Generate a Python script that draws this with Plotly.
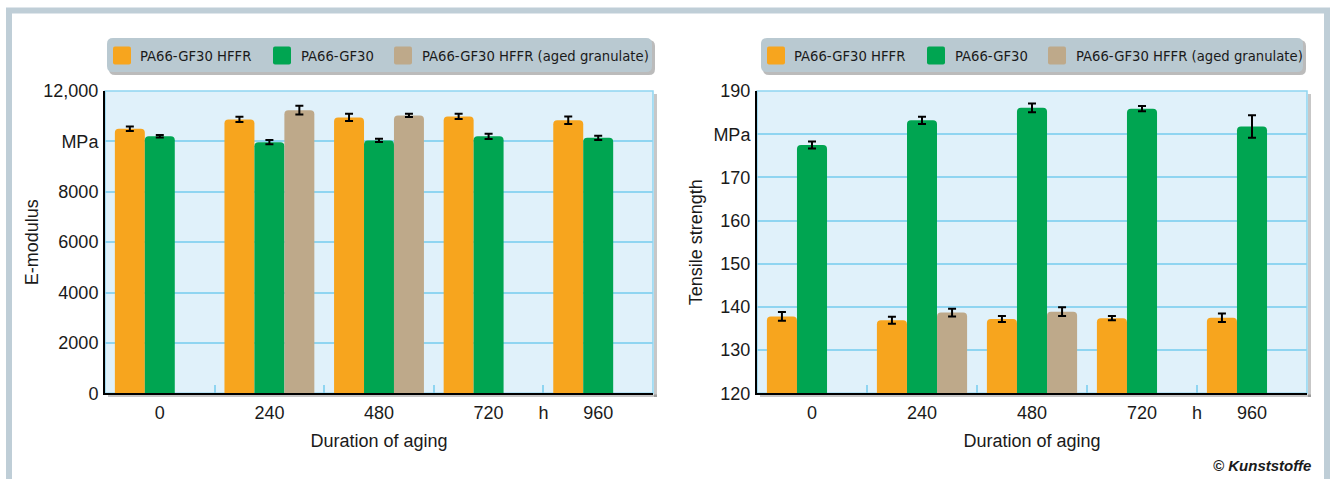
import plotly.graph_objects as go

# ---------------- data ----------------
categories = ["0", "240", "480", "720", "960"]          # duration of aging, h
series_names = ["PA66-GF30 HFFR", "PA66-GF30", "PA66-GF30 HFFR (aged granulate)"]
series_colors = ["#f7a51e", "#00a551", "#bea98a"]

emod_hffr = [10500, 10870, 10950, 10990, 10840]
emod_hffr_err = [90, 105, 145, 105, 150]
emod_gf30 = [10200, 9970, 10040, 10200, 10140]
emod_gf30_err = [50, 80, 65, 105, 85]
emod_aged = [None, 11240, 11030, None, None]
emod_aged_err = [0, 170, 65, 0, 0]

ts_hffr = [137.8, 136.9, 137.2, 137.4, 137.5]
ts_hffr_err = [1.0, 0.8, 0.7, 0.5, 1.0]
ts_gf30 = [177.5, 183.2, 186.1, 185.9, 181.8]
ts_gf30_err = [0.8, 0.85, 1.0, 0.6, 2.6]
ts_aged = [None, 138.7, 138.9, None, None]
ts_aged_err = [0, 0.9, 1.0, 0, 0]

emod_tickvals = [0, 2000, 4000, 6000, 8000, 10000, 12000]
emod_ticktext = ["0", "2000", "4000", "6000", "8000", "MPa", "12,000"]
ts_tickvals = [120, 130, 140, 150, 160, 170, 180, 190]
ts_ticktext = ["120", "130", "140", "150", "160", "170", "MPa", "190"]
unit_label = "h"

# ---------------- geometry helpers ----------------
W, H = 1332, 479


def px(x):
    return x / W


def py(y):
    return 1 - y / H


FONT = "Liberation Sans, Arial, sans-serif"
LEG_FONT = "DejaVu Sans Condensed, Liberation Sans Narrow, Arial Narrow, Liberation Sans, Arial"
GRID = "#8fd5f1"
PLOTBG = "#e0f1fa"
FRAME = "#bfced7"

xpos = list(range(len(categories)))
xtickvals = xpos[:4] + [3.5] + xpos[4:]
xticktext = categories[:4] + [unit_label] + categories[4:]

fig = go.Figure()


def add_bars(vals_list, errs_list, xa, ya):
    for name, color, vals, errs in zip(series_names, series_colors, vals_list, errs_list):
        fig.add_trace(go.Bar(
            x=xpos, y=vals, name=name, showlegend=False,
            marker=dict(color=color, cornerradius=4, line=dict(color=color, width=0)),
            error_y=dict(type="data", array=errs, visible=True, color="black",
                         thickness=2, width=4),
            xaxis=xa, yaxis=ya,
        ))


add_bars([emod_hffr, emod_gf30, emod_aged], [emod_hffr_err, emod_gf30_err, emod_aged_err], "x", "y")
add_bars([ts_hffr, ts_gf30, ts_aged], [ts_hffr_err, ts_gf30_err, ts_aged_err], "x2", "y2")

ydom = [py(393.3), py(91)]


def xaxis_cfg(domain, anchor):
    return dict(
        domain=domain, anchor=anchor, range=[-0.5, 4.5],
        tickmode="array", tickvals=xtickvals, ticktext=xticktext,
        ticks="", showgrid=False, zeroline=False,
        showline=True, linecolor="black", linewidth=2,
        tickfont=dict(family=FONT, size=18, color="#1a1a1a"),
        ticklabelstandoff=2,
        minor=dict(tickmode="array", tickvals=[0.5, 1.5, 2.5, 3.5], ticks="inside",
                   ticklen=8, tickwidth=1.5, tickcolor=GRID, showgrid=False),
        title=dict(text="Duration of aging", font=dict(family=FONT, size=18, color="#1a1a1a"),
                   standoff=12),
        automargin=False, fixedrange=True,
    )


def yaxis_cfg(anchor, rng, tv, tt, title, standoff):
    return dict(
        domain=ydom, anchor=anchor, range=rng,
        tickmode="array", tickvals=tv, ticktext=tt,
        ticks="", showgrid=True, gridcolor=GRID, gridwidth=2, zeroline=False,
        showline=True, linecolor="black", linewidth=2,
        tickfont=dict(family=FONT, size=18, color="#1a1a1a"),
        ticklabelstandoff=1,
        title=dict(text=title, font=dict(family=FONT, size=18, color="#1a1a1a"),
                   standoff=standoff),
        automargin=False, fixedrange=True,
    )


fig.update_layout(
    width=W, height=H,
    margin=dict(l=0, r=0, t=0, b=0),
    paper_bgcolor="white", plot_bgcolor=PLOTBG,
    barmode="group", bargap=0.18, bargroupgap=0,
    xaxis=xaxis_cfg([px(105), px(653)], "y"),
    yaxis=yaxis_cfg("x", [0, 12000], emod_tickvals, emod_ticktext, "E-modulus", 0),
    xaxis2=xaxis_cfg([px(757), px(1307)], "y2"),
    yaxis2=yaxis_cfg("x2", [120, 190], ts_tickvals, ts_ticktext, "Tensile strength", 6),
    showlegend=False,
)

shapes = []
# outer frame
shapes.append(dict(type="rect", xref="paper", yref="paper",
                   x0=px(9), x1=px(1327), y0=py(520), y1=py(10.5),
                   line=dict(color=FRAME, width=6), fillcolor="rgba(0,0,0,0)", layer="below"))

# plot-area top/right light border and shadow
for xa, ya, xl, xr in (("x", "y", 105, 653), ("x2", "y2", 757, 1307)):
    shapes.append(dict(type="rect", xref=f"{xa} domain", yref=f"{ya} domain",
                       x0=0, x1=1, y0=0, y1=1, line=dict(color=GRID, width=1.5),
                       fillcolor="rgba(0,0,0,0)", layer="below"))
    shapes.append(dict(type="rect", xref="paper", yref="paper",
                       x0=px(xr + 1), x1=px(xr + 4), y0=py(397), y1=py(94),
                       line=dict(width=0), fillcolor="rgba(0,0,0,0.22)", layer="below"))
    shapes.append(dict(type="rect", xref="paper", yref="paper",
                       x0=px(xl + 3), x1=px(xr + 4), y0=py(397), y1=py(394.5),
                       line=dict(width=0), fillcolor="rgba(0,0,0,0.22)", layer="below"))


def rounded_path(x0, y0, x1, y1, r):
    # pixel coords (y down) -> paper path
    X = lambda v: f"{px(v):.6f}"
    Y = lambda v: f"{py(v):.6f}"
    return (f"M{X(x0 + r)},{Y(y0)} L{X(x1 - r)},{Y(y0)} Q{X(x1)},{Y(y0)} {X(x1)},{Y(y0 + r)} "
            f"L{X(x1)},{Y(y1 - r)} Q{X(x1)},{Y(y1)} {X(x1 - r)},{Y(y1)} "
            f"L{X(x0 + r)},{Y(y1)} Q{X(x0)},{Y(y1)} {X(x0)},{Y(y1 - r)} "
            f"L{X(x0)},{Y(y0 + r)} Q{X(x0)},{Y(y0)} {X(x0 + r)},{Y(y0)} Z")


annotations = []
swatch_off = [6, 166, 287]
text_off = [31, 192, 313]
for bx0, bx1 in ((107, 652), (761, 1303)):
    shapes.append(dict(type="path", xref="paper", yref="paper",
                       path=rounded_path(bx0 + 2, 40, bx1 + 3, 75, 6),
                       fillcolor="rgba(60,60,60,0.35)", line=dict(width=0), layer="above"))
    shapes.append(dict(type="path", xref="paper", yref="paper",
                       path=rounded_path(bx0, 38, bx1, 72, 6),
                       fillcolor="#b9c9d1", line=dict(width=0), layer="above"))
    for name, color, so, to in zip(series_names, series_colors, swatch_off, text_off):
        shapes.append(dict(type="path", xref="paper", yref="paper",
                           path=rounded_path(bx0 + so, 46.5, bx0 + so + 18, 64.5, 2),
                           fillcolor=color, line=dict(width=0), layer="above"))
        annotations.append(dict(x=px(bx0 + to), y=py(55.5), xref="paper", yref="paper",
                                text=name, showarrow=False, xanchor="left", yanchor="middle",
                                font=dict(family=LEG_FONT, size=14.7, color="#1a1a1a")))

annotations.append(dict(x=px(1313), y=py(465), xref="paper", yref="paper",
                        text="<b><i>© Kunststoffe</i></b>", showarrow=False,
                        xanchor="right", yanchor="middle",
                        font=dict(family=FONT, size=15, color="#1a1a1a")))

fig.update_layout(shapes=shapes, annotations=annotations)

fig.write_html("out.html", config={"displayModeBar": False},
               post_script="document.body.style.margin='0px';")
